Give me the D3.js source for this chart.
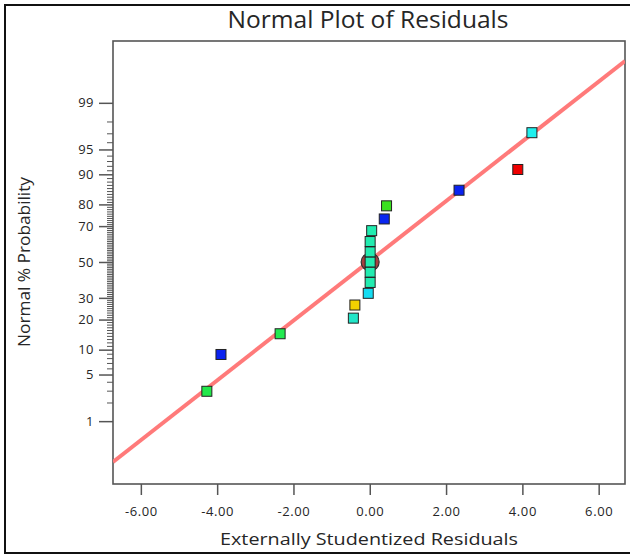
<!DOCTYPE html>
<html lang="en">
<head>
  <meta charset="UTF-8">
  <title>Normal Plot of Residuals</title>
  <script src="https://d3js.org/d3.v7.min.js"></script>
  <style>
    body { margin: 0; background: #fff; }
    text { font-family: "Open Sans", "Noto Sans", sans-serif; fill: #262626; }
    .tick line { stroke: #555; }
  </style>
</head>
<body>
<svg width="630" height="555"></svg>
<script>
  // Residuals (x) and normal % probability (y)
  const residuals = [-4.27, -3.90, -2.35, -0.43, -0.39, -0.04, 0.01, 0.01, 0.01, 0.01, 0.01, 0.05, 0.38, 0.44, 2.34, 3.88, 4.25];
  const probabilities = [2.94, 8.82, 14.71, 20.59, 26.47, 32.35, 38.24, 44.12, 50.00, 55.88, 61.76, 67.65, 73.53, 79.41, 85.29, 91.18, 97.06];
  const pointColors = ["#22e84a", "#0a22f0", "#22ea50", "#22e6c8", "#f2d200", "#14dcf2",
                       "#22ecb0", "#22ecb0", "#22ecb0", "#22ecb0", "#22ecb0", "#22ecb0",
                       "#0a26f0", "#3ae020", "#0a22f0", "#ee0000", "#20f0ee"];
  const highlighted = 8; // point with the ring around it

  // Fit line, two ends
  const lineResiduals = [-6.73, 6.69];
  const lineProbabilities = [0.173, 99.835];

  const xTicks = [-6, -4, -2, 0, 2, 4, 6];
  const yMajor = [1, 5, 10, 20, 30, 50, 70, 80, 90, 95, 99];
  const yMinor = d3.range(2, 99).filter(p => !yMajor.includes(p));

  // inverse normal CDF (Acklam)
  function probit(p) {
    const a = [-39.69683028665376, 220.9460984245205, -275.9285104469687, 138.3577518672690, -30.66479806614716, 2.506628277459239];
    const b = [-54.47609879822406, 161.5858368580409, -155.6989798598866, 66.80131188771972, -13.28068155288572];
    const c = [-0.007784894002430293, -0.3223964580411365, -2.400758277161838, -2.549732539343734, 4.374664141464968, 2.938163982698783];
    const d = [0.007784695709041462, 0.3224671290700398, 2.445134137142996, 3.754408661907416];
    const pl = 0.02425;
    let q, r;
    if (p < pl) {
      q = Math.sqrt(-2 * Math.log(p));
      return (((((c[0]*q+c[1])*q+c[2])*q+c[3])*q+c[4])*q+c[5]) / ((((d[0]*q+d[1])*q+d[2])*q+d[3])*q+1);
    } else if (p <= 1 - pl) {
      q = p - 0.5; r = q * q;
      return (((((a[0]*r+a[1])*r+a[2])*r+a[3])*r+a[4])*r+a[5])*q / (((((b[0]*r+b[1])*r+b[2])*r+b[3])*r+b[4])*r+1);
    } else {
      q = Math.sqrt(-2 * Math.log(1 - p));
      return -(((((c[0]*q+c[1])*q+c[2])*q+c[3])*q+c[4])*q+c[5]) / ((((d[0]*q+d[1])*q+d[2])*q+d[3])*q+1);
    }
  }
  const z = p => probit(p / 100);

  const plot = {left: 113, top: 41, right: 625, bottom: 484};
  const svg = d3.select("svg");

  // outer frame
  svg.append("rect")
    .attr("x", 5).attr("y", 5)
    .attr("width", 630).attr("height", 548)
    .attr("fill", "none").attr("stroke", "#111").attr("stroke-width", 2);

  const x = d3.scaleLinear().domain([-6.73, 6.69]).range([plot.left, plot.right]);
  const y = d3.scaleLinear().domain([-3.245, 3.23]).range([plot.bottom, plot.top]);

  // title
  svg.append("text")
    .attr("x", 368).attr("y", 28)
    .attr("text-anchor", "middle")
    .attr("textLength", 281).attr("lengthAdjust", "spacingAndGlyphs")
    .style("font-size", "23px")
    .text("Normal Plot of Residuals");

  // x axis
  const xAxis = svg.append("g")
    .attr("transform", `translate(0,${plot.bottom})`)
    .call(d3.axisBottom(x).tickValues(xTicks).tickSize(11).tickPadding(12)
      .tickFormat(d => d.toFixed(2)));
  xAxis.select(".domain").remove();
  xAxis.selectAll("line").attr("stroke-width", 1.5);
  xAxis.selectAll("text").style("font-size", "13px").style("letter-spacing", "0.6px").attr("fill", "#262626");

  // y axis, minor then major
  const yMinorAxis = svg.append("g")
    .attr("transform", `translate(${plot.left},0)`)
    .call(d3.axisLeft(y).tickValues(yMinor.map(z)).tickSize(6).tickFormat(""));
  yMinorAxis.select(".domain").remove();
  yMinorAxis.selectAll("line").attr("stroke", "#666").attr("stroke-width", 1);

  const yAxis = svg.append("g")
    .attr("transform", `translate(${plot.left},0)`)
    .call(d3.axisLeft(y).tickValues(yMajor.map(z)).tickSize(14).tickPadding(5)
      .tickFormat((d, i) => yMajor[i]));
  yAxis.select(".domain").remove();
  yAxis.selectAll("line").attr("stroke-width", 1.5);
  yAxis.selectAll("text").style("font-size", "13px").style("letter-spacing", "0.5px").attr("fill", "#262626");

  // plot frame
  svg.append("rect")
    .attr("x", plot.left).attr("y", plot.top)
    .attr("width", plot.right - plot.left).attr("height", plot.bottom - plot.top)
    .attr("fill", "none").attr("stroke", "#555").attr("stroke-width", 1.6);

  // axis titles
  svg.append("text")
    .attr("x", 369).attr("y", 545)
    .attr("text-anchor", "middle")
    .attr("textLength", 298).attr("lengthAdjust", "spacingAndGlyphs")
    .style("font-size", "17px")
    .text("Externally Studentized Residuals");

  svg.append("text")
    .attr("transform", "translate(30,262) rotate(-90)")
    .attr("text-anchor", "middle")
    .attr("textLength", 170).attr("lengthAdjust", "spacingAndGlyphs")
    .style("font-size", "17px")
    .text("Normal % Probability");

  svg.append("clipPath").attr("id", "clip")
    .append("rect")
    .attr("x", plot.left).attr("y", plot.top)
    .attr("width", plot.right - plot.left).attr("height", plot.bottom - plot.top);

  // fit line
  const line = d3.line().x(d => x(d[0])).y(d => y(z(d[1])));
  svg.append("path")
    .datum(d3.zip(lineResiduals, lineProbabilities))
    .attr("clip-path", "url(#clip)")
    .attr("d", line)
    .attr("fill", "none")
    .attr("stroke", "#ff7a7a")
    .attr("stroke-width", 4);

  // ring around the highlighted point
  svg.append("circle")
    .attr("cx", x(residuals[highlighted]))
    .attr("cy", y(z(probabilities[highlighted])))
    .attr("r", 9)
    .attr("fill", "#a84040")
    .attr("stroke", "#333")
    .attr("stroke-width", 1.2);

  // points
  const s = 10;
  svg.selectAll(".pt")
    .data(d3.zip(residuals, probabilities, pointColors))
    .enter().append("rect")
    .attr("class", "pt")
    .attr("x", d => x(d[0]) - s / 2)
    .attr("y", d => y(z(d[1])) - s / 2)
    .attr("width", s).attr("height", s)
    .attr("fill", d => d[2])
    .attr("stroke", "#222")
    .attr("stroke-width", 1);
</script>
</body>
</html>
